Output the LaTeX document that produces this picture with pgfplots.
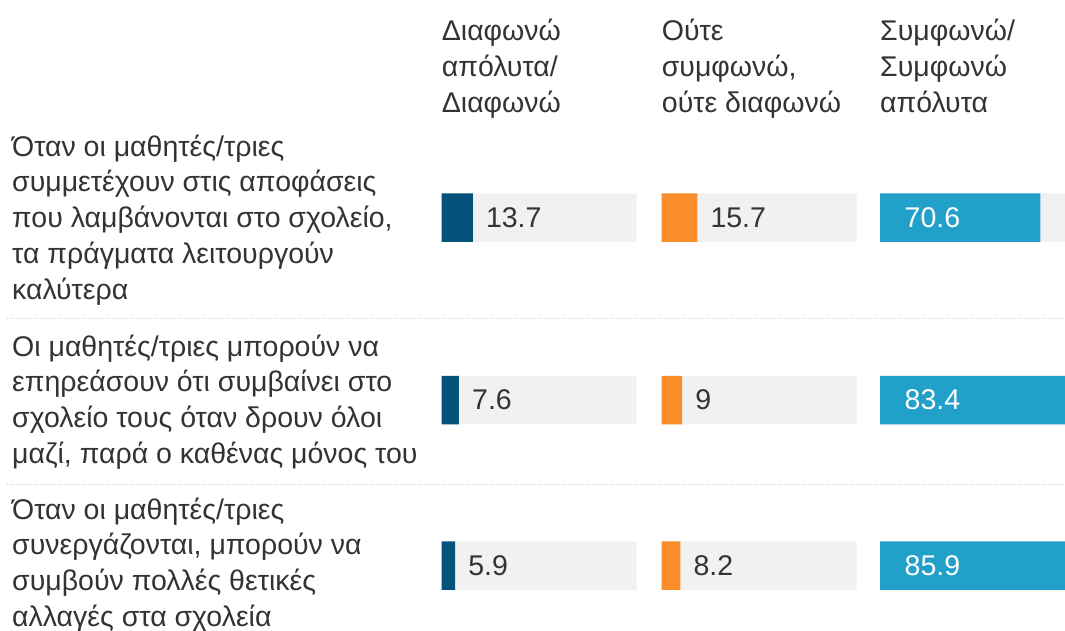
\documentclass[border=0pt]{standalone}
\usepackage{fontspec}
\setmainfont{Liberation Sans}
\usepackage{pgfplots}
\pgfplotsset{compat=1.18}
\usepackage{pgfplotstable}
\definecolor{dblue}{HTML}{05527A}
\definecolor{orng}{HTML}{F98E2A}
\definecolor{lblue}{HTML}{21A1C9}
\definecolor{bggray}{HTML}{F1F1F1}
\definecolor{txt}{HTML}{333333}
\definecolor{sep}{HTML}{C8C8C8}

\pgfplotstableread{
y disagree neutral agree
217.5 13.7 15.7 70.6
400 7.6 9 83.4
565.5 5.9 8.2 85.9
}\datatable

\newcommand{\bigfont}{\fontsize{28.5}{35.8}\selectfont}

\pgfplotsset{
  colaxis/.style={scale only axis, width=195pt, height=631pt,
    xmin=0, xmax=85.9, ymin=0, ymax=631, y dir=reverse,
    hide axis, clip=false, anchor=north west},
  bgbar/.style={xbar, bar shift=0pt, bar width=48.5, fill=bggray, draw=none},
  valbar/.style={xbar, bar shift=0pt, bar width=48.5, fill=#1, draw=none},
  lab/.style={nodes near coords, point meta=explicit,
    nodes near coords style={anchor=west, inner sep=0pt, xshift=13pt,
      font=\bigfont, text=#1, /pgf/number format/assume math mode=true}},
}

\begin{document}
\begin{tikzpicture}
\path[use as bounding box] (0,0) rectangle (1065pt,-631pt);

% separators
\draw[sep, dotted, line width=1pt] (7pt,-318.5pt) -- (1065pt,-318.5pt);
\draw[sep, dotted, line width=1pt] (7pt,-484.5pt) -- (1065pt,-484.5pt);

% headers
\begin{scope}[every node/.style={anchor=north west, inner sep=0pt, align=left, font=\bigfont, text=txt}]
\node at (441.7pt,-19pt) {Διαφωνώ\\απόλυτα/\\Διαφωνώ};
\node at (661.7pt,-19pt) {Ούτε\\συμφωνώ,\\ούτε διαφωνώ};
\node at (880pt,-19pt) {Συμφωνώ/\\Συμφωνώ\\απόλυτα};
\end{scope}

% row labels
\begin{scope}[every node/.style={anchor=west, inner sep=0pt, align=left, font=\bigfont, text=txt}]
\node at (12pt,-220pt) {Όταν οι μαθητές/τριες\\συμμετέχουν στις αποφάσεις\\που λαμβάνονται στο σχολείο,\\τα πράγματα λειτουργούν\\καλύτερα};
\node at (12pt,-402pt) {Οι μαθητές/τριες μπορούν να\\επηρεάσουν ότι συμβαίνει στο\\σχολείο τους όταν δρουν όλοι\\μαζί, παρά ο καθένας μόνος του};
\node at (12pt,-565pt) {Όταν οι μαθητές/τριες\\συνεργάζονται, μπορούν να\\συμβούν πολλές θετικές\\αλλαγές στα σχολεία};
\end{scope}

% column 1
\begin{axis}[colaxis, at={(441.7pt,0pt)}]
\addplot[bgbar] table[x expr=85.9, y=y]{\datatable};
\addplot[valbar=dblue, lab=txt] table[x=disagree, y=y, meta=disagree]{\datatable};
\end{axis}

% column 2
\begin{axis}[colaxis, at={(661.7pt,0pt)}]
\addplot[bgbar] table[x expr=85.9, y=y]{\datatable};
\addplot[valbar=orng, lab=txt] table[x=neutral, y=y, meta=neutral]{\datatable};
\end{axis}

% column 3
\begin{axis}[colaxis, at={(880pt,0pt)}]
\addplot[bgbar] table[x expr=85.9, y=y]{\datatable};
\addplot[valbar=lblue] table[x=agree, y=y]{\datatable};
\addplot[draw=none, mark=none, lab=white, nodes near coords style={xshift=11.5pt}] table[x expr=0, y=y, meta=agree]{\datatable};
\end{axis}
\end{tikzpicture}
\end{document}
